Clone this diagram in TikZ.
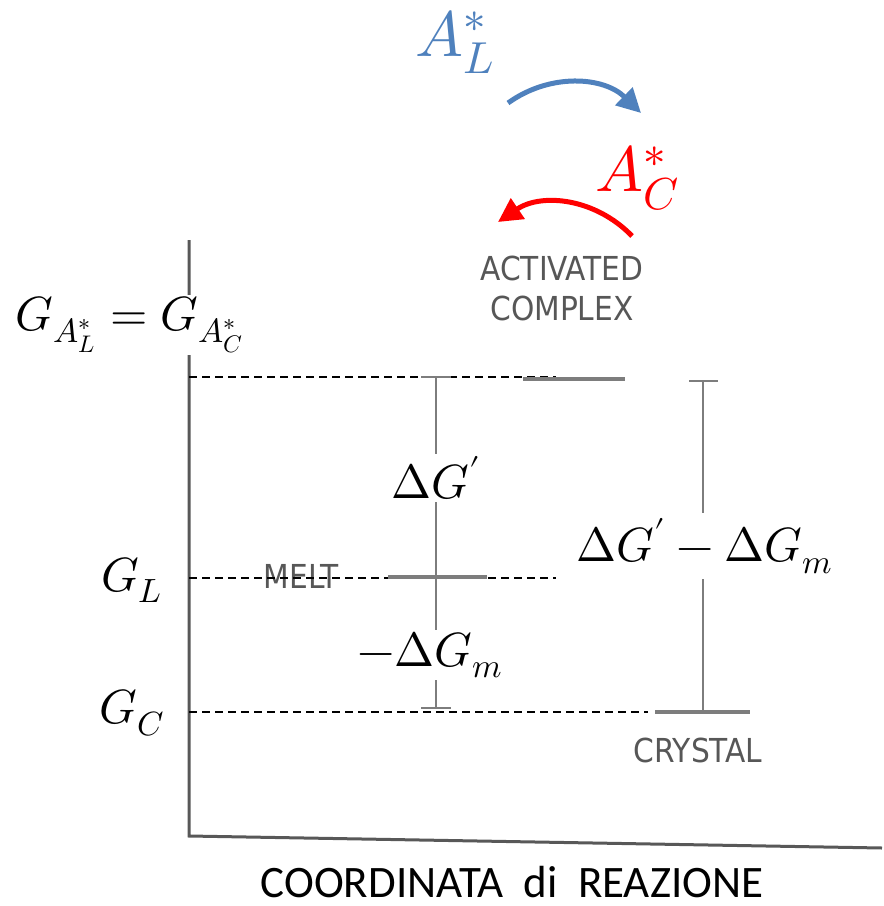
\documentclass[tikz,border=0pt]{standalone}
\usepackage{amsmath,amssymb}
\usepackage{fontspec}
\usepackage{unicode-math}
\setmainfont{Carlito}
\newfontfamily\scanfont{DejaVu Sans Condensed}
\usetikzlibrary{arrows.meta}
\definecolor{arrowblue}{RGB}{79,129,189}
\definecolor{arrowred}{RGB}{255,0,0}
\definecolor{scangray}{RGB}{125,125,125}

\begin{document}
\begin{tikzpicture}[x=0.5pt,y=-0.5pt,
    axis/.style={draw=scangray!70!black,line width=1.5pt},
    level/.style={draw=scangray,line width=1.6pt},
    bar/.style={draw=scangray,line width=1.2pt},
    guide/.style={line width=0.6pt,dash pattern=on 4pt off 2.5pt},
    mathlabel/.style={fill=white,inner sep=1pt,font=\fontsize{24}{28}\selectfont},
    scanlabel/.style={text=scangray!70!black,align=center,font=\scanfont\fontsize{16.5}{20}\selectfont},
    flow/.style={line width=2.5pt,-{Triangle[length=12pt,width=12pt]}}]
    \useasboundingbox (0,0) rectangle (884,906);
    \coordinate (ytop) at (189,240);
    \coordinate (origin) at (189,836);
    \coordinate (xend) at (882,848);
    \draw[axis] (ytop) -- (origin) -- (xend);
    \node[scanlabel] (activated) at (562,288) {ACTIVATED\\COMPLEX};
    \node[scanlabel] (melt) at (301,576) {MELT};
    \node[scanlabel] (crystal) at (698,750) {CRYSTAL};
    \coordinate (gaaxis) at (189,377);
    \coordinate (gaend) at (556,377);
    \coordinate (glaxis) at (189,578);
    \coordinate (glend) at (556,578);
    \coordinate (gcaxis) at (189,712);
    \coordinate (gcend) at (648,712);
    \draw[guide] (gaaxis) -- (gaend);
    \draw[guide] (glaxis) -- (glend);
    \draw[guide] (gcaxis) -- (gcend);
    \draw[level] (523,379) -- (625,379);
    \draw[level] (388,577) -- (487,577);
    \draw[level] (655,712) -- (750,712);
    \coordinate (lefttop) at (436,377);
    \coordinate (leftbot) at (436,708);
    \coordinate (righttop) at (703,381);
    \coordinate (rightbot) at (703,712);
    \draw[bar] (lefttop) -- (leftbot);
    \draw[bar] (righttop) -- (rightbot);
    \draw[bar] (421,377) -- (451,377);
    \draw[bar] (421,708) -- (451,708);
    \draw[bar] (689,381) -- (718,381);
    \node[mathlabel] (gastar) at (130,325) {$G_{A_L^*}=G_{A_C^*}$};
    \node[mathlabel] (gl) at (132,580) {$G_L$};
    \node[mathlabel] (gc) at (132,713) {$G_C$};
    \node[mathlabel] (dg) at (436,478) {$\Delta G'$};
    \node[mathlabel] (dgm) at (430,655) {$-\Delta G_m$};
    \node[mathlabel,inner sep=3pt] (dgdiff) at (705,546) {$\Delta G'-\Delta G_m$};
    \node[text=arrowblue,inner sep=0pt,font=\fontsize{32}{36}\selectfont] (al) at (455,42) {$A_L^*$};
    \node[text=arrowred,inner sep=0pt,font=\fontsize{32}{36}\selectfont] (ac) at (638,178) {$A_C^*$};
    \coordinate (bs) at (508,103);
    \coordinate (be) at (641,113);
    \coordinate (rs) at (632,236);
    \coordinate (re) at (498,222);
    \draw[flow,arrowblue] (bs) to[bend left=40] (be);
    \draw[flow,arrowred] (rs) to[bend right=40] (re);
    \node (xtitle) at (512,882) {\fontsize{22.5}{26}\selectfont COORDINATA\ \ di\ \ REAZIONE};
\end{tikzpicture}
\end{document}
